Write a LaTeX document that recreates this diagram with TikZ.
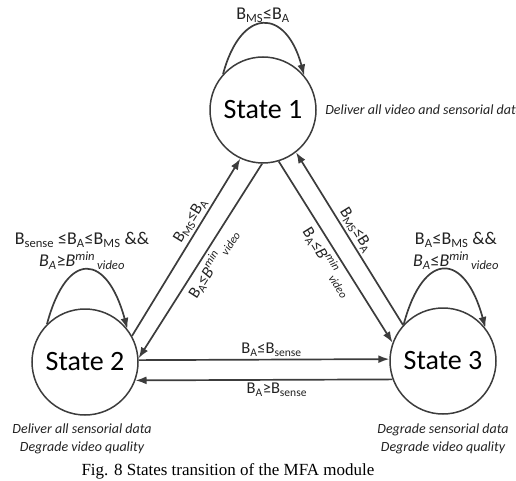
\documentclass[tikz,border=0pt]{standalone}
\usepackage{fontspec}
\setmainfont{Carlito}
\newfontfamily\capfont{Liberation Serif}
\usetikzlibrary{arrows.meta}

\definecolor{edgegray}{HTML}{3C3C3C}
\definecolor{textgray}{HTML}{222222}

\newcommand{\lo}[1]{\textsubscript{#1}}
\newcommand{\hi}[1]{\textsuperscript{#1}}
\newcommand{\bmin}{{\itshape B\hi{min}\kern0.1em\lo{video}}}

\tikzset{
  state/.style={circle, draw=edgegray, line width=1.5pt, fill=white, minimum size=106pt,
    inner sep=0pt, text=black, font=\fontsize{28}{30}\selectfont},
  trans/.style={edgegray, line width=1.7pt, -{Latex[length=11pt,width=8pt]}},
  cond/.style={text=textgray, inner sep=2.5pt, font=\fontsize{16.5}{19}\selectfont},
  loopcond/.style={text=textgray, align=center, font=\fontsize{18}{22}\selectfont},
  note/.style={text=textgray, align=center, font=\fontsize{14}{17.5}\selectfont\itshape},
}

\begin{document}
\begin{tikzpicture}[x=1pt, y=1pt]
    \useasboundingbox (0,0) rectangle (516,480);

    % states
    \node[state] (s1) at (263,370) {State 1};
    \node[state] (s2) at (85,118) {State 2};
    \node[state] (s3) at (443,119) {State 3};

    % self loops
    \draw[trans] (s1.138) .. controls +(75:70) and +(105:70) .. (s1.40);
    \draw[trans] (s2.135) .. controls +(75:78) and +(105:78) .. (s2.38);
    \draw[trans] (s3.137) .. controls +(75:78) and +(105:78) .. (s3.38);

    \node[loopcond] (c1) at (263,465) {B\lo{MS}≤B\lo{A}};
    \node[loopcond] (c2) at (82,229) {B\lo{sense} ≤B\lo{A}≤B\lo{MS} \&\&\\{\itshape B\lo{A}}≥\bmin};
    \node[loopcond] (c3) at (456,229) {B\lo{A}≤B\lo{MS} \&\&\\{\itshape B\lo{A}}≤\bmin};

    % transitions between the states
    \draw[trans] (s2.29) -- (s1.245)
        node[cond, pos=0.62, sloped, above] {B\lo{MS}≤B\lo{A}};
    \draw[trans] (s1.269) -- (s2.4)
        node[cond, pos=0.48, sloped, below] {B\lo{A}≤\bmin};
    \draw[trans] (s1.287) -- (s3.160)
        node[cond, pos=0.52, sloped, below] {B\lo{A}≤\bmin};
    \draw[trans] (s3.138) -- (s1.308)
        node[cond, pos=0.52, sloped, above] {B\lo{MS}≤B\lo{A}};
    \draw[trans] (s2.2) -- (s3.178)
        node[cond, pos=0.53, above] {B\lo{A}≤B\lo{sense}};
    \draw[trans] (s3.200) -- (s2.340)
        node[cond, pos=0.45, below] {B\lo{A}≥B\lo{sense}};

    % what each state does
    \node[note, anchor=west] (n1) at ([xshift=5pt]s1.east) {Deliver all video and sensorial data};
    \node[note] (n2) at (82,41) {Deliver all sensorial data\\Degrade video quality};
    \node[note] (n3) at (443,41) {Degrade sensorial data\\Degrade video quality};

    \node[font=\capfont\fontsize{17}{20}\selectfont] (cap) at (228,9) {Fig. 8 States transition of the MFA module};
\end{tikzpicture}
\end{document}
